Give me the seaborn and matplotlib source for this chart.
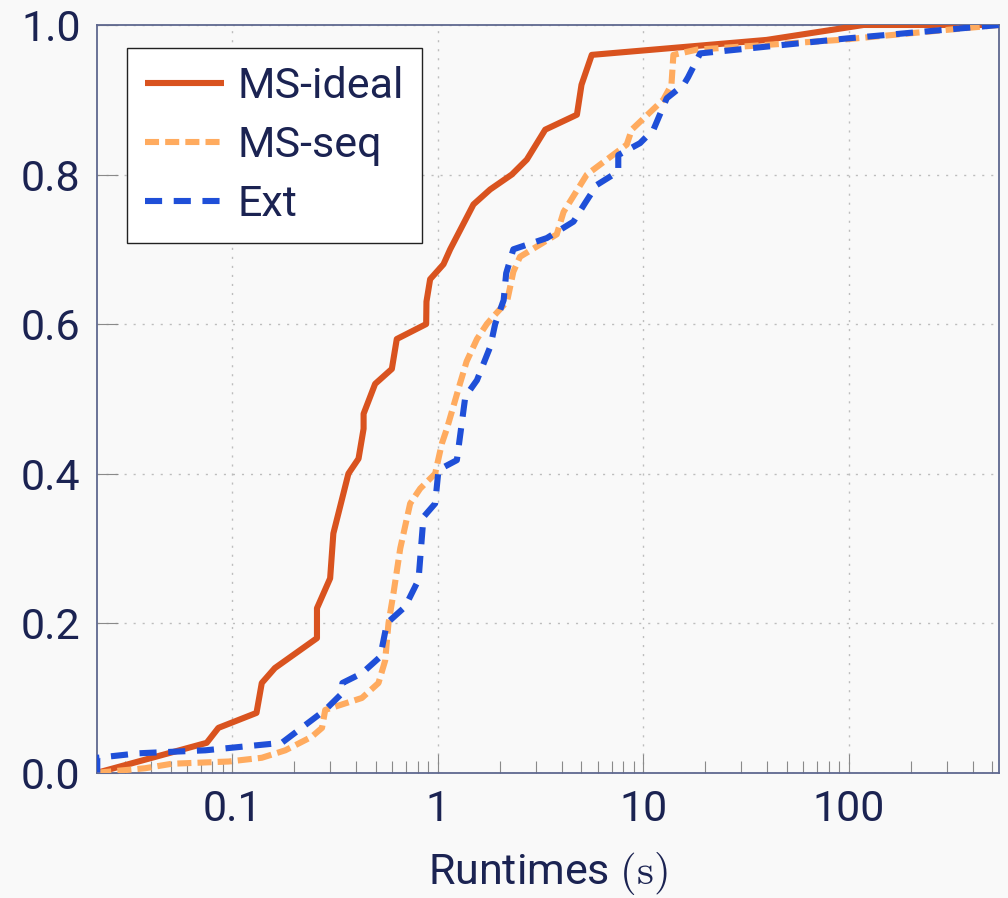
import numpy as np
import pandas as pd
import matplotlib
matplotlib.use("Agg")
import matplotlib.pyplot as plt
import seaborn as sns
from matplotlib.ticker import LogLocator, FixedLocator, NullFormatter

# ---- data ----
ideal_x = [0.022, 0.075, 0.0855, 0.131, 0.139, 0.161, 0.258, 0.258, 0.299, 0.31, 0.367, 0.411,
           0.435, 0.435, 0.495, 0.597, 0.631, 0.877, 0.88, 0.917, 1.065, 1.148, 1.49, 1.796,
           2.29, 2.71, 3.33, 4.75, 5.0, 5.61, 39.8, 118, 540]
ideal_y = [0.0, 0.04, 0.06, 0.08, 0.12, 0.14, 0.18, 0.22, 0.26, 0.32, 0.40, 0.42,
           0.46, 0.48, 0.52, 0.54, 0.58, 0.60, 0.63, 0.66, 0.68, 0.70, 0.76, 0.78,
           0.80, 0.82, 0.86, 0.88, 0.92, 0.96, 0.98, 1.0, 1.0]

seq_x = [0.022, 0.0376, 0.0507, 0.096, 0.139, 0.181, 0.243, 0.273, 0.283, 0.427, 0.514, 0.554,
         0.575, 0.608, 0.656, 0.733, 0.82, 0.97, 1.045, 1.106, 1.19, 1.28, 1.38, 1.55, 1.73,
         1.86, 2.17, 2.33, 2.51, 3.79, 4.09, 5.31, 6.64, 8.3, 8.78, 12.5, 13.7, 14.0, 18.2, 90, 540]
seq_y = [0.0, 0.006, 0.012, 0.015, 0.02, 0.03, 0.048, 0.06, 0.084, 0.10, 0.12, 0.15,
         0.20, 0.24, 0.30, 0.36, 0.38, 0.40, 0.44, 0.46, 0.49, 0.52, 0.55, 0.58, 0.60,
         0.61, 0.63, 0.67, 0.69, 0.72, 0.75, 0.80, 0.82, 0.84, 0.86, 0.90, 0.92, 0.96, 0.967, 0.98, 1.0]

ext_x = [0.022, 0.022, 0.035, 0.074, 0.174, 0.283, 0.341, 0.343, 0.427, 0.524, 0.565, 0.693,
         0.805, 0.851, 0.97, 1.007, 1.237, 1.36, 1.55, 1.80, 1.90, 2.09, 2.15, 2.33, 3.39,
         4.57, 5.21, 5.93, 7.55, 7.55, 9.64, 11.2, 13.0, 15.7, 16.5, 18.9, 98, 540]
ext_y = [0.0, 0.02, 0.026, 0.03, 0.04, 0.084, 0.106, 0.12, 0.133, 0.155, 0.20, 0.222,
         0.258, 0.342, 0.36, 0.405, 0.418, 0.503, 0.525, 0.57, 0.60, 0.632, 0.668, 0.70, 0.715,
         0.737, 0.762, 0.786, 0.804, 0.826, 0.842, 0.86, 0.902, 0.92, 0.93, 0.962, 0.982, 1.0]

methods = ["MS-ideal", "MS-seq", "Ext"]
x_ticks = [0.1, 1, 10, 100]
x_ticklabels = ["0.1", "1", "10", "100"]
y_ticks = [0.0, 0.2, 0.4, 0.6, 0.8, 1.0]
y_ticklabels = ["0.0", "0.2", "0.4", "0.6", "0.8", "1.0"]

df = pd.concat([
    pd.DataFrame({"x": ideal_x, "y": ideal_y, "method": "MS-ideal"}),
    pd.DataFrame({"x": seq_x, "y": seq_y, "method": "MS-seq"}),
    pd.DataFrame({"x": ext_x, "y": ext_y, "method": "Ext"}),
], ignore_index=True)

# ---- style ----
sns.set_theme(style="white")
BG = "#f9f9f9"
TXT = "#1b2352"
SPINE = "#5f688f"
plt.rcParams["font.family"] = ["Roboto", "DejaVu Sans"]
plt.rcParams["mathtext.fontset"] = "cm"
plt.rcParams["text.color"] = TXT
plt.rcParams["axes.labelcolor"] = TXT
plt.rcParams["xtick.color"] = "#8a8a8a"
plt.rcParams["ytick.color"] = "#8a8a8a"
plt.rcParams["xtick.labelcolor"] = TXT
plt.rcParams["ytick.labelcolor"] = TXT
plt.rcParams["lines.solid_capstyle"] = "butt"
plt.rcParams["lines.dash_capstyle"] = "butt"

fig = plt.figure(figsize=(10.08, 8.98), dpi=100, facecolor=BG)
ax = fig.add_axes([0.0965, 0.1395, 0.8949, 0.8327])
ax.set_facecolor(BG)

palette = {"MS-ideal": "#d9531f", "MS-seq": "#ffab5f", "Ext": "#1f4fd8"}
dashes = {"MS-ideal": "", "MS-seq": (2.3, 1.0), "Ext": (2.8, 1.9)}

sns.lineplot(data=df, x="x", y="y", hue="method", style="method", hue_order=methods,
             style_order=methods, palette=palette, dashes=dashes, sort=False,
             estimator=None, linewidth=4.4, ax=ax, zorder=3)

ax.set_xscale("log")
ax.set_xlim(0.022, 540)
ax.set_ylim(0, 1)

ax.xaxis.set_major_locator(FixedLocator(x_ticks))
ax.set_xticklabels(x_ticklabels)
ax.xaxis.set_minor_locator(LogLocator(base=10, subs=np.arange(2, 10)))
ax.xaxis.set_minor_formatter(NullFormatter())
ax.set_yticks(y_ticks)
ax.set_yticklabels(y_ticklabels)

ax.tick_params(axis="x", which="major", direction="in", length=13.5, width=0.8,
               labelsize=31, pad=12, bottom=True, top=False)
ax.tick_params(axis="x", which="minor", direction="in", length=9, width=0.8,
               bottom=True, top=False)
ax.tick_params(axis="y", which="major", direction="in", length=15, width=0.8,
               labelsize=31, pad=12, left=True, right=False)

ax.grid(True, which="major", color="#bdbdbd", linestyle=(0, (1.5, 5)), linewidth=1.0)
for s in ax.spines.values():
    s.set_visible(True)
    s.set_color(SPINE)
    s.set_linewidth(1.3)

ax.set_xlabel(r"Runtimes $(\mathrm{s})$", fontsize=31, labelpad=14)
ax.set_ylabel("")

handles, labels = ax.get_legend_handles_labels()
leg = ax.legend(handles, labels, loc="upper left", bbox_to_anchor=(0.0326, 0.969),
                borderaxespad=0, fontsize=31, frameon=True, fancybox=False,
                framealpha=1, facecolor="white", edgecolor="#222222",
                handlelength=1.85, handletextpad=0.3, labelspacing=0.42,
                borderpad=0.42)
leg.get_frame().set_linewidth(1.0)
for t in leg.get_texts():
    t.set_color(TXT)

fig.savefig("out.png", dpi=100, facecolor=BG)
